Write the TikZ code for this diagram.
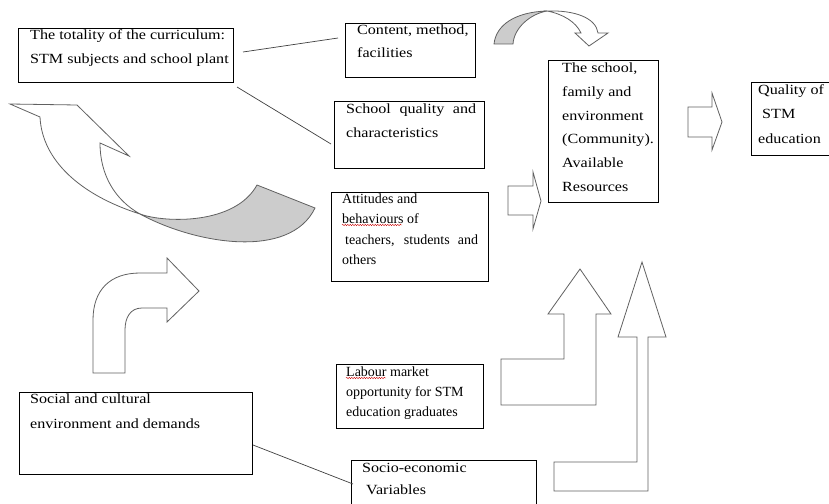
\documentclass[tikz,border=0pt]{standalone}
\usepackage{fontspec}
\setmainfont{Liberation Serif}
\newfontfamily\wide[FakeStretch=1.15]{Liberation Serif}
\usetikzlibrary{decorations.pathmorphing}
\newcommand{\tb}[3]{\parbox[t]{#1}{\fontsize{14pt}{#2}\selectfont\raggedright #3}}
\begin{document}
\begin{tikzpicture}[x=1pt,y=-1pt,
  box/.style={draw=black,line width=0.8pt,inner sep=0,anchor=north west},
  txt/.style={inner sep=0,anchor=base west},
  conn/.style={draw=black!75,line width=0.7pt},
  arr/.style={draw=black!62,line width=0.8pt,line join=miter},
  squig/.style={draw=red!80!black,line width=0.4pt,decorate,decoration={snake,amplitude=0.7pt,segment length=2.5pt}}]
\useasboundingbox[fill=white] (0,0) rectangle (829,503);

% boxes
\node[box,minimum width=215pt,minimum height=54pt] (tot) at (18,28) {};
\node[box,minimum width=130pt,minimum height=54pt] (cont) at (345,23) {};
\node[box,minimum width=150pt,minimum height=67pt] (qual) at (334,101) {};
\node[box,minimum width=157pt,minimum height=89pt] (att) at (331,192) {};
\node[box,minimum width=110pt,minimum height=142pt] (sch) at (548,60) {};
\node[box,minimum width=84pt,minimum height=73pt] (stm) at (751,82) {};
\node[box,minimum width=147pt,minimum height=64pt] (lab) at (336,364) {};
\node[box,minimum width=233pt,minimum height=82pt] (soc) at (19,392) {};
\node[box,minimum width=185pt,minimum height=60pt] (seco) at (351,460) {};

% texts
\node[txt] (tot-t) at (30,40) {\tb{210pt}{24pt}{\wide The totality of the curriculum:\\STM subjects and school plant}};
\node[txt] (cont-t) at (357,35) {\tb{120pt}{23pt}{\wide Content, method,\\facilities}};
\node[txt] (qual-t) at (346,113) {\tb{140pt}{24pt}{\wide \makebox[130pt][s]{School quality and}\\characteristics}};
\node[txt] (att-t) at (342,203) {\tb{150pt}{20.5pt}{Attitudes and\\behaviours of\\\hspace*{3pt}\makebox[133pt][s]{teachers, students and}\\others}};
\node[txt] (sch-t) at (562,73) {\tb{100pt}{23.6pt}{\wide The school,\\family and\\environment\\(Community).\\Available\\Resources}};
\node[txt] (stm-t) at (758,94) {\tb{80pt}{24.5pt}{\wide Quality of\\\hspace*{4pt}STM\\education}};
\node[txt] (lab-t) at (346,376) {\tb{140pt}{20pt}{Labour market\\opportunity for STM\\education graduates}};
\node[txt] (soc-t) at (30,403) {\tb{220pt}{25pt}{\wide Social and cultural\\environment and demands}};
\node[txt] (seco-t) at (362,472) {\tb{170pt}{22pt}{\wide Socio-economic\\\hspace*{4pt}Variables}};

% spell-check squiggles
\coordinate (sq1a) at (342,225); \coordinate (sq1b) at (402,225);
\coordinate (sq2a) at (346,378); \coordinate (sq2b) at (386,378);
\draw[squig] (sq1a) -- (sq1b);
\draw[squig] (sq2a) -- (sq2b);

% connectors
\coordinate (l1a) at (243,52); \coordinate (l1b) at (338,38);
\coordinate (l2a) at (237,87); \coordinate (l2b) at (331,144);
\coordinate (l3a) at (253,445); \coordinate (l3b) at (353,484);
\draw[conn] (l1a) -- (l1b);
\draw[conn] (l2a) -- (l2b);
\draw[conn] (l3a) -- (l3b);

% big curved arrow (left)
\path[arr,fill=white] (40,117) -- (10,104) -- (77,105) -- (129,156) -- (100,143)
  .. controls (100,175) and (115,200) .. (140,214)
  .. controls (80,195) and (42,160) .. (40,117) -- cycle;
\path[arr,fill=black!20] (140,214) .. controls (165,223) and (235,225) .. (257,185)
  -- (315,208) .. controls (290,260) and (195,244) .. (140,214) -- cycle;

% top curved arrow
\path[arr,fill=black!20] (494,44) .. controls (496,25) and (515,12) .. (547,11)
  .. controls (530,14) and (514,28) .. (513,44) -- cycle;
\path[arr,fill=white] (547,11) .. controls (575,10) and (596,18) .. (598,33)
  -- (608,33) -- (589,46) -- (575,33) -- (581,33)
  .. controls (576,22) and (563,14) .. (547,11) -- cycle;

% block arrows right
\path[arr,fill=white] (508,186) -- (533,186) -- (533,172) -- (541,201) -- (533,229) -- (533,215) -- (508,215) -- cycle;
\path[arr,fill=white] (688,107) -- (712,107) -- (712,93) -- (722,122) -- (712,150) -- (712,137) -- (688,137) -- cycle;

% bent arrow bottom left
\path[arr,fill=white] (93,373) -- (93,320) .. controls (93,290) and (110,273) .. (140,273)
  -- (167,273) -- (167,258) -- (199,291) -- (167,322) -- (167,308) -- (142,308)
  .. controls (130,308) and (125,318) .. (125,330) -- (125,373) -- cycle;

% up arrows
\path[arr,fill=white] (501,405) -- (501,359) -- (564,359) -- (564,314) -- (548,314) -- (580,269)
  -- (611,314) -- (596,314) -- (596,405) -- cycle;
\path[arr,fill=white] (554,491) -- (648,491) -- (648,337) -- (666,337) -- (642,262) -- (618,337)
  -- (637,337) -- (637,462) -- (554,462) -- cycle;
\end{tikzpicture}
\end{document}
